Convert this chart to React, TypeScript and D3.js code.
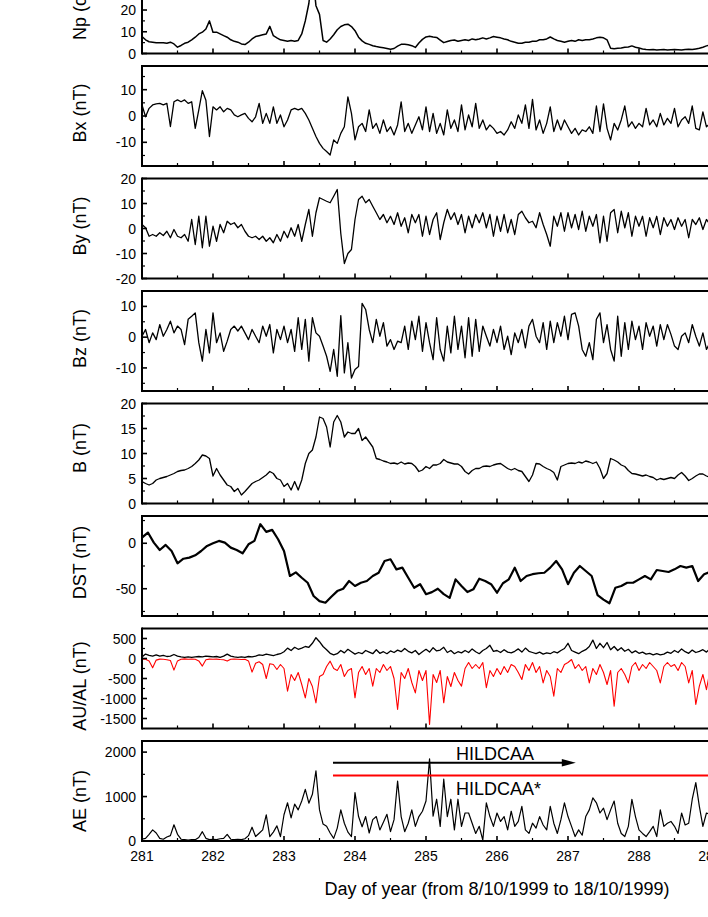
import React from 'react';
import * as d3 from 'd3';

// ---------- data (day of year 281.00 .. 289.00, step 0.05 day) ----------
const DAY_START = 281;
const STEP = 0.05;
const DST_STEP = 1 / 12;

const dayTicks = [281, 282, 283, 284, 285, 286, 287, 288, 289, 290, 291];

const npValues = [
  7.8, 6.3, 5.4, 5.2, 4.9, 4.9, 4.9, 4.7, 5.2, 4.4, 2.9, 3.7, 4.7, 5.2, 6.3, 7.5, 9.0, 9.8, 11.3, 15.0,
  9.8, 9.8, 9.0, 8.2, 7.5, 6.3, 5.6, 5.2, 4.4, 4.1, 5.2, 6.7, 7.8, 8.2, 8.6, 9.0, 12.5, 8.2, 7.2, 6.3,
  6.0, 5.6, 6.0, 5.6, 6.0, 9.0, 15.0, 23.0, 38.0, 22.0, 18.0, 6.0, 5.2, 6.7, 8.6, 10.9, 12.4, 13.2, 13.5, 12.4,
  10.5, 7.5, 5.8, 4.7, 4.2, 3.6, 3.2, 2.9, 2.6, 2.3, 2.0, 2.3, 3.4, 4.2, 4.3, 4.0, 3.6, 2.8, 4.8, 6.5,
  7.6, 7.9, 7.6, 7.4, 6.2, 5.0, 5.5, 6.0, 6.2, 5.6, 6.0, 6.3, 6.0, 6.7, 6.3, 6.7, 7.2, 6.7, 7.2, 7.8,
  7.5, 7.2, 6.7, 6.3, 5.6, 5.2, 4.7, 4.7, 5.2, 5.2, 5.6, 5.6, 6.3, 6.3, 6.7, 7.6, 6.7, 6.0, 5.6, 5.2,
  5.6, 6.0, 5.6, 6.3, 6.0, 6.3, 6.3, 6.7, 7.2, 7.5, 7.2, 6.3, 2.4, 2.2, 2.4, 2.5, 2.9, 3.0, 3.5, 2.9,
  2.5, 2.1, 1.8, 1.7, 1.8, 1.6, 1.7, 1.8, 1.6, 1.7, 1.8, 1.7, 1.6, 1.8, 1.9, 1.8, 2.1, 2.4, 2.9, 3.5,
  4.0,
];

const bxValues = [
  4.2, -0.3, 2.9, 4.2, 4.6, 4.8, 4.2, 4.8, -4.0, 5.4, 6.1, 5.4, 6.1, 4.8, 5.4, -4.7, 2.3, 9.6, 6.0, -7.8,
  3.5, 2.3, 3.5, 1.6, 2.9, 2.3, 0.4, -0.3, 0.4, 1.0, -0.9, -2.2, -0.3, 4.8, -2.8, 1.0, -2.8, 3.5, -2.8, 0.4,
  -4.1, -1.5, 2.3, 2.9, 2.3, 2.9, 1.0, -1.5, -4.7, -7.8, -10.4, -12.3, -13.5, -14.8, -9.1, -10.4, -6.6, -4.1, 7.3, 1.0,
  -9.1, -4.1, -2.8, -5.9, 2.3, -4.7, -2.8, -6.6, -1.5, -5.9, -4.1, -7.2, -3.4, 5.4, -5.9, -2.8, -6.6, -3.4, -0.3, -5.3,
  3.5, -5.9, 1.0, -6.6, -2.8, -7.2, 2.3, -4.7, -1.5, -5.9, 4.2, -5.3, 0.4, -4.1, 4.8, -4.7, -1.5, -5.3, -3.4, -4.7,
  -6.6, -5.9, -7.2, -5.3, -2.2, -4.7, 0.4, -2.8, 4.2, -4.7, 6.3, -5.3, -1.5, -6.6, -2.8, 3.5, -5.9, -1.5, -5.3, -1.5,
  -4.1, -6.6, -4.7, -7.2, -5.3, -5.9, -4.1, -6.6, 3.8, -5.9, 4.6, -4.7, -9.1, -2.8, -5.3, -1.5, 3.8, -4.1, -2.2, -4.7,
  -2.8, -4.1, 2.9, -3.4, -1.5, -4.1, 1.0, -3.4, -0.9, -2.8, 2.9, -4.1, -1.5, -0.3, -2.8, 3.8, -4.7, -5.3, 1.6, -4.1,
  -2.8,
];

const byValues = [
  1.6, 0.3, -3.1, -2.4, -3.1, -1.7, -2.8, -1.1, -3.7, -0.4, -3.1, -3.7, -2.4, -5.1, 3.6, -6.4, 4.9, -7.7, 4.9, -7.1,
  0.9, -5.1, 1.6, -1.7, 2.9, 1.6, 2.3, 0.3, 1.6, -1.1, -3.1, -3.7, -3.1, -4.4, -3.1, -5.1, -3.7, -5.7, -2.4, -5.1,
  -1.1, -3.7, 0.3, -3.1, 1.6, -5.1, 1.6, 7.6, -3.1, 6.3, 12.3, 11.6, 10.9, 10.3, 12.9, 15.6, -2.0, -14.0, -10.0, -8.4,
  3.6, 11.6, 12.9, 10.3, 11.6, 8.9, 6.3, 3.6, 5.6, 2.3, 4.9, 1.6, 6.3, 0.9, 4.3, -1.7, 5.6, 2.3, 5.6, -3.1,
  4.9, -2.4, 3.6, 6.3, -4.4, 2.3, 7.6, 3.6, 6.3, 1.6, 5.6, -1.7, 4.9, 0.3, 5.6, 2.3, 6.3, 0.3, 5.6, -3.1,
  4.9, -1.1, 5.6, -1.7, 3.6, -2.4, 5.6, 6.9, 4.3, 2.3, 2.9, 0.3, 6.3, 1.6, -2.4, -7.1, 4.9, 0.9, 6.3, -1.1,
  6.3, 0.3, 5.6, -0.4, 6.9, -1.1, 4.9, 0.9, 5.6, -5.7, 4.9, -5.1, 6.3, 7.6, -1.7, 6.9, 0.3, 6.3, -3.1, 4.9,
  0.9, 4.9, -3.1, 4.3, 0.3, 4.9, -2.4, 4.3, 0.9, 3.6, -0.4, 4.3, 0.9, 3.6, -3.7, 3.6, 1.6, 4.3, -0.4, 3.6,
  1.6,
];

const bzValues = [
  0.3, 2.5, -1.8, 1.4, -0.8, 4.1, 0.3, 2.5, 5.2, 1.4, 3.6, 2.5, -2.4, 5.8, 6.8, 7.9, -1.8, -7.8, 2.5, -5.1,
  7.9, -1.8, 1.4, -4.6, -1.3, 2.5, 3.6, 2.0, 3.6, 1.4, -0.8, 2.5, 0.3, -1.8, 3.6, 0.3, 4.1, -5.1, 2.5, -0.8,
  3.6, -1.8, 2.5, -4.6, 6.3, -4.0, 5.8, -7.8, 6.3, 1.4, 0.3, -2.9, -6.2, -11.1, -4.0, -12.7, 7.0, -11.6, -1.8, -13.3,
  -10.5, -9.5, 11.0, 9.0, 2.5, -1.8, 5.8, 0.3, 4.7, -2.9, -0.8, -4.0, -1.3, -1.8, 3.6, -4.0, 5.2, -0.8, 6.8, -4.6,
  4.7, -1.8, -7.3, 6.3, -4.0, -7.8, 3.6, -5.1, 6.8, -4.0, 3.6, -6.7, 6.3, -6.2, 5.8, -4.6, 3.6, 0.3, -2.9, 2.5,
  -1.8, 3.6, -4.0, 0.3, -5.7, 1.4, -1.8, 2.5, -3.5, 3.6, 5.8, 0.3, -1.8, 4.7, -4.0, 5.2, -1.8, 4.7, 0.3, 6.8,
  -0.8, 7.4, 7.9, 3.6, -4.0, -6.2, -1.8, -7.3, 5.8, 7.9, -1.8, 4.1, -4.0, -7.8, 6.8, -6.2, 4.7, -4.0, 5.2, -0.8,
  3.6, -4.0, 4.7, 0.3, 3.6, -2.9, 4.1, -0.8, 4.1, 0.9, -2.9, -4.0, 0.3, 1.4, -1.8, 4.1, 0.3, -2.9, 1.4, -4.0,
  -1.8,
];

const bValues = [
  4.4, 4.0, 3.7, 4.0, 4.7, 5.0, 5.2, 5.4, 5.7, 6.0, 6.4, 6.6, 6.7, 7.0, 7.4, 8.0, 8.7, 9.7, 9.5, 9.0,
  5.5, 7.0, 5.7, 4.7, 3.7, 3.4, 2.4, 3.0, 1.7, 2.4, 3.2, 4.0, 4.4, 4.7, 5.2, 5.7, 6.4, 6.0, 5.0, 4.7,
  3.4, 4.0, 2.7, 4.4, 2.7, 4.7, 8.0, 10.0, 10.7, 13.3, 17.3, 17.0, 15.3, 11.3, 16.3, 17.6, 16.3, 13.3, 14.3, 14.0,
  14.0, 15.0, 12.6, 13.3, 12.3, 11.3, 9.0, 8.8, 8.5, 8.3, 8.0, 8.1, 7.9, 8.3, 7.9, 8.1, 8.0, 7.4, 6.4, 6.7,
  7.4, 7.0, 7.7, 7.7, 8.0, 8.8, 8.3, 8.1, 7.9, 7.9, 7.4, 6.4, 5.9, 6.6, 7.0, 7.0, 7.4, 7.5, 7.4, 7.7,
  7.9, 8.0, 7.5, 7.0, 6.7, 7.0, 6.6, 6.4, 5.4, 4.4, 5.7, 8.0, 7.9, 7.4, 7.0, 6.7, 6.2, 4.7, 7.4, 7.7,
  8.0, 8.1, 8.0, 8.3, 8.1, 8.5, 8.3, 8.0, 8.3, 7.0, 5.0, 6.0, 9.0, 8.7, 8.3, 7.7, 7.4, 6.6, 6.0, 5.9,
  5.7, 5.5, 5.7, 5.4, 5.2, 4.7, 5.0, 4.8, 5.0, 5.2, 5.0, 5.7, 6.2, 5.5, 4.6, 5.0, 5.5, 5.9, 5.9, 5.5,
  5.2,
];

// DST, step 2 h
const dstValues = [
  6.3, 11.8, 0.7, -7.4, -1.8, -8.5, -22, -17, -15.8, -13.2, -8.5, -2.9,
  0, 2.6, 0.7, -4.8, -7.4, -11, -1.1, 2.6, 21, 12.5, 14.7, 4.4,
  -8.5, -36, -32, -37.9, -43.4, -58, -63.6, -65.4, -58.8, -52.6, -50, -41.5,
  -47, -43.4, -41.5, -36, -32.4, -19.5, -17.6, -28.7, -26.8, -37.9, -48.9, -45,
  -56, -53.7, -50, -56, -60, -39.7, -47, -53.7, -50.7, -39, -41.5, -45,
  -54.4, -44, -39.7, -26.8, -41.5, -36, -34, -33, -32.4, -26.8, -19.5, -28.7,
  -45, -32.4, -25, -30.5, -36, -57, -62, -66, -49, -47, -43.4, -43.4,
  -39.7, -36, -39.7, -29.4, -30.5, -31.6, -28.7, -25, -26.8, -25, -41.5, -34,
  -31.6,
];

const auValues = [
  40, 110, 80, 60, 90, 60, 80, 50, 60, 100, 60, 40, 30, 40, 30, 40, 50, 40, 60, 50,
  40, 50, 30, 60, 110, 60, 40, 30, 40, 30, 50, 40, 60, 90, 80, 110, 90, 70, 100, 120,
  170, 260, 200, 280, 230, 260, 300, 280, 380, 520, 420, 300, 220, 130, 90, 120, 200, 140, 230, 170,
  110, 150, 120, 200, 160, 120, 220, 130, 170, 120, 190, 150, 210, 170, 250, 180, 140, 200, 100, 170,
  230, 160, 270, 190, 210, 280, 150, 200, 120, 170, 140, 200, 150, 240, 170, 120, 200, 250, 330, 180,
  200, 150, 220, 160, 140, 180, 240, 160, 260, 180, 150, 120, 160, 110, 140, 120, 170, 140, 200, 250,
  380, 200, 160, 120, 180, 220, 300, 460, 250, 380, 270, 400, 220, 300, 200, 270, 180, 230, 140, 190,
  130, 160, 110, 130, 90, 120, 90, 110, 160, 130, 200, 150, 240, 170, 130, 210, 150, 180, 220, 160,
  240,
];

const alValues = [
  -15, -20, -60, -233, -40, -15, -20, -30, -50, -290, -60, -20, -10, -20, -15, -20, -60, -190, -30, -15,
  -20, -15, -25, -30, -65, -20, -15, -20, -25, -20, -60, -340, -120, -80, -150, -500, -130, -150, -275, -150,
  -250, -815, -400, -550, -350, -650, -983, -500, -700, -1108, -450, -400, -200, -66, -250, -300, -150, -450, -300, -250,
  -983, -350, -200, -400, -250, -690, -250, -350, -150, -300, -200, -500, -1275, -350, -500, -250, -600, -860, -300, -550,
  -300, -1650, -400, -600, -300, -1108, -450, -700, -350, -550, -690, -250, -100, -250, -150, -250, -100, -730, -300, -450,
  -250, -400, -200, -350, -150, -200, -350, -525, -150, -300, -100, -350, -200, -610, -300, -450, -940, -250, -350, -150,
  -100, -25, -250, -150, -300, -200, -610, -250, -400, -150, -350, -650, -300, -1191, -350, -250, -400, -610, -200, -100,
  -300, -150, -250, -100, -200, -300, -610, -200, -100, -200, -150, -300, -100, -200, -610, -300, -1150, -690, -400, -780,
  -300,
];

const aeValues = [
  40, 60, 150, 250, 180, 60, 40, 90, 120, 365, 150, 40, 30, 20, 30, 30, 80, 210, 60, 30,
  40, 30, 50, 60, 150, 40, 30, 40, 30, 50, 120, 310, 100, 175, 250, 590, 100, 200, 340, 100,
  590, 860, 520, 830, 700, 900, 1160, 850, 1050, 1580, 700, 380, 330, 180, 60, 290, 700, 400, 200, 100,
  1090, 550, 320, 550, 180, 480, 550, 250, 420, 600, 210, 480, 1350, 550, 210, 400, 700, 330, 550, 670,
  900, 1850, 560, 940, 330, 1390, 550, 940, 250, 940, 330, 630, 630, 400, 170, 330, 20, 860, 550, 330,
  630, 440, 550, 250, 670, 330, 440, 780, 250, 170, 400, 290, 550, 360, 250, 780, 400, 170, 480, 860,
  550, 330, 100, 250, 130, 550, 700, 970, 860, 630, 740, 480, 700, 900, 400, 170, 100, 330, 935, 550,
  250, 170, 100, 210, 330, 100, 700, 330, 400, 440, 330, 170, 630, 360, 400, 940, 1315, 780, 330, 630,
  600,
];

// HILDCAA annotations (day, AE level)
const hildcaaSpan = [283.69, 287.11];
const hildcaaLevel = 1760;
const hildcaaStarSpan = [283.69, 291];
const hildcaaStarLevel = 1475;

// ---------- layout ----------
const W = 708;
const H = 917;
const X0 = 142;
const X1 = 852;
const PANEL_H = 100;
const PANEL_PITCH = 112.5;
const FIRST_TOP = -46.5;
const FONT = "'Liberation Sans', Arial, Helvetica, sans-serif";

type Series = { values: number[]; step: number; color: string; width: number };
type Panel = {
  key: string;
  label: string;
  labelY: number;
  domain: [number, number];
  major: number[];
  minor: number[];
  series: Series[];
};

const panels: Panel[] = [
  {
    key: 'np', label: 'Np', labelY: 40, domain: [0, 46],
    major: [0, 10, 20], minor: [5, 15],
    series: [{ values: npValues, step: STEP, color: '#000', width: 1.5 }],
  },
  {
    key: 'bx', label: 'Bx (nT)', labelY: 113, domain: [-19, 19],
    major: [-10, 0, 10], minor: [-15, -5, 5, 15],
    series: [{ values: bxValues, step: STEP, color: '#000', width: 1.3 }],
  },
  {
    key: 'by', label: 'By (nT)', labelY: 226, domain: [-20, 20],
    major: [-20, -10, 0, 10, 20], minor: [-15, -5, 5, 15],
    series: [{ values: byValues, step: STEP, color: '#000', width: 1.3 }],
  },
  {
    key: 'bz', label: 'Bz (nT)', labelY: 338.5, domain: [-17.5, 15],
    major: [-10, 0, 10], minor: [-15, -5, 5],
    series: [{ values: bzValues, step: STEP, color: '#000', width: 1.3 }],
  },
  {
    key: 'b', label: 'B (nT)', labelY: 448, domain: [0, 20],
    major: [0, 5, 10, 15, 20], minor: [2.5, 7.5, 12.5, 17.5],
    series: [{ values: bValues, step: STEP, color: '#000', width: 1.3 }],
  },
  {
    key: 'dst', label: 'DST (nT)', labelY: 562.5, domain: [-80, 30],
    major: [-50, 0], minor: [-75, -25, 25],
    series: [{ values: dstValues, step: DST_STEP, color: '#000', width: 2.2 }],
  },
  {
    key: 'aual', label: 'AU/AL (nT)', labelY: 686, domain: [-1750, 750],
    major: [-1500, -1000, -500, 0, 500], minor: [-1250, -750, -250, 250],
    series: [
      { values: alValues, step: STEP, color: '#ff0000', width: 1.1 },
      { values: auValues, step: STEP, color: '#000', width: 1.3 },
    ],
  },
  {
    key: 'ae', label: 'AE (nT)', labelY: 801, domain: [0, 2250],
    major: [0, 1000, 2000], minor: [500, 1500],
    series: [{ values: aeValues, step: STEP, color: '#000', width: 1.2 }],
  },
];

export default function App() {
  const x = d3.scaleLinear().domain([281, 291]).range([X0, X1]);
  const halfDays = dayTicks.slice(0, -1).map((d) => d + 0.5);

  return (
    <svg
      width={W}
      height={H}
      viewBox={`0 0 ${W} ${H}`}
      style={{ position: 'absolute', left: 0, top: 0, display: 'block', background: '#fff' }}
      fontFamily={FONT}
    >
      <rect x={0} y={0} width={W} height={H} fill="#fff" />
      <defs>
        {panels.map((p, i) => {
          const top = FIRST_TOP + PANEL_PITCH * i;
          return (
            <clipPath id={`clip-${p.key}`} key={p.key}>
              <rect x={X0} y={top} width={X1 - X0} height={PANEL_H} />
            </clipPath>
          );
        })}
      </defs>

      {panels.map((p, i) => {
        const top = FIRST_TOP + PANEL_PITCH * i;
        const bottom = top + PANEL_H;
        const y = d3.scaleLinear().domain(p.domain).range([bottom, top]);
        return (
          <g key={p.key}>
            <g clipPath={`url(#clip-${p.key})`}>
              {p.series.map((s, j) => {
                const pts: [number, number][] = s.values.map((v, k) => [DAY_START + k * s.step, v]);
                const line = d3
                  .line<[number, number]>()
                  .x((d) => x(d[0]))
                  .y((d) => y(d[1]));
                return (
                  <path
                    key={j}
                    d={line(pts) || ''}
                    fill="none"
                    stroke={s.color}
                    strokeWidth={s.width}
                    strokeLinejoin="round"
                  />
                );
              })}
            </g>

            {/* frame */}
            <line x1={X0} x2={X1} y1={top} y2={top} stroke="#000" strokeWidth={2} />
            <line x1={X0} x2={X1} y1={bottom} y2={bottom} stroke="#000" strokeWidth={2} />
            <line x1={X0} x2={X0} y1={top - 1} y2={bottom + 1} stroke="#000" strokeWidth={2} />

            {/* y ticks */}
            {p.major
              .filter((v) => v >= p.domain[0] && v <= p.domain[1])
              .map((v) => (
                <g key={`M${v}`}>
                  <line x1={X0} x2={X0 + 5} y1={y(v)} y2={y(v)} stroke="#000" strokeWidth={1.6} />
                  <text
                    x={136}
                    y={y(v)}
                    dy="0.36em"
                    textAnchor="end"
                    fontSize={14}
                    fill="#000"
                  >
                    {v}
                  </text>
                </g>
              ))}
            {p.minor
              .filter((v) => v > p.domain[0] && v < p.domain[1])
              .map((v) => (
                <line key={`m${v}`} x1={X0} x2={X0 + 3} y1={y(v)} y2={y(v)} stroke="#000" strokeWidth={1.2} />
              ))}

            {/* x ticks on bottom edge */}
            {dayTicks.map((d) => (
              <line key={`xd${d}`} x1={x(d)} x2={x(d)} y1={bottom} y2={bottom - 5} stroke="#000" strokeWidth={1.6} />
            ))}
            {halfDays.map((d) => (
              <line key={`xh${d}`} x1={x(d)} x2={x(d)} y1={bottom} y2={bottom - 3} stroke="#000" strokeWidth={1.2} />
            ))}

            {/* axis label */}
            {p.key === 'np' ? (
              <text
                transform={`translate(86,${p.labelY}) rotate(-90)`}
                textAnchor="start"
                fontSize={18}
                fill="#000"
              >
                Np (cm<tspan dy="-7" fontSize={12}>-3</tspan>
                <tspan dy="7">)</tspan>
              </text>
            ) : (
              <text
                transform={`translate(86,${p.labelY}) rotate(-90)`}
                textAnchor="middle"
                fontSize={18}
                fill="#000"
              >
                {p.label}
              </text>
            )}

            {/* HILDCAA annotations in AE panel */}
            {p.key === 'ae' && (
              <g>
                <line
                  x1={x(hildcaaStarSpan[0])}
                  x2={x(hildcaaStarSpan[1])}
                  y1={y(hildcaaStarLevel)}
                  y2={y(hildcaaStarLevel)}
                  stroke="#ff0000"
                  strokeWidth={2}
                />
                <line
                  x1={x(hildcaaSpan[0])}
                  x2={x(hildcaaSpan[1]) - 12}
                  y1={y(hildcaaLevel)}
                  y2={y(hildcaaLevel)}
                  stroke="#000"
                  strokeWidth={2}
                />
                <path
                  d={`M${x(hildcaaSpan[1])},${y(hildcaaLevel)} L${x(hildcaaSpan[1]) - 14},${y(hildcaaLevel) - 3.8} L${x(hildcaaSpan[1]) - 14},${y(hildcaaLevel) + 3.8} Z`}
                  fill="#000"
                />
                <text x={456} y={759.5} fontSize={18} fill="#000">
                  HILDCAA
                </text>
                <text x={456} y={794.5} fontSize={18} fill="#000">
                  HILDCAA*
                </text>
              </g>
            )}

            {/* x tick labels on the bottom panel */}
            {i === panels.length - 1 &&
              dayTicks.map((d) => (
                <text key={`xl${d}`} x={x(d)} y={861} textAnchor="middle" fontSize={14} fill="#000">
                  {d}
                </text>
              ))}
          </g>
        );
      })}

      <text x={(X0 + X1) / 2} y={895} textAnchor="middle" fontSize={18} fill="#000">
        Day of year (from 8/10/1999 to 18/10/1999)
      </text>
    </svg>
  );
}
